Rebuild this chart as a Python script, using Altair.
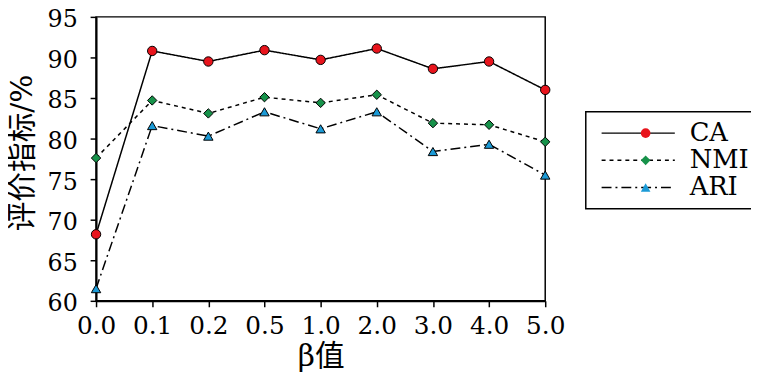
import altair as alt
import pandas as pd

# ---- data ----
beta = ["0.0", "0.1", "0.2", "0.5", "1.0", "2.0", "3.0", "4.0", "5.0"]
series = ["CA", "NMI", "ARI"]
ca = [68.2, 90.8, 89.5, 90.9, 89.7, 91.1, 88.6, 89.5, 86.0]
nmi = [77.6, 84.7, 83.1, 85.1, 84.4, 85.4, 81.9, 81.7, 79.6]
ari = [61.5, 81.6, 80.3, 83.3, 81.2, 83.3, 78.4, 79.3, 75.5]
y_ticks = [60, 65, 70, 75, 80, 85, 90, 95]

colors = ["#e8141c", "#17924a", "#1b9ad6"]
shapes = ["circle", "diamond", "triangle-up"]
dashes = [[1, 0], [4, 4], [10, 4, 2, 4]]

rows = []
for s, vals in zip(series, [ca, nmi, ari]):
    for b, v in zip(beta, vals):
        rows.append({"beta": b, "series": s, "metric": s, "value": v})
df = pd.DataFrame(rows)

FONT = "DejaVu Serif, Noto Sans CJK SC"

x = alt.X(
    "beta:O",
    sort=beta,
    scale=alt.Scale(type="point", padding=0),
    axis=alt.Axis(title="β值", labelAngle=0, labelPadding=7, titlePadding=3,
                  titleFontSize=30, labelFontSize=25),
)
y = alt.Y(
    "value:Q",
    scale=alt.Scale(domain=[60, 95], nice=False, zero=False),
    axis=alt.Axis(title="评价指标/%", values=y_ticks, labelPadding=13,
                  labelBaseline="alphabetic", labelOffset=10, labelFontSize=24,
                  titlePadding=10, titleY=137, titleFontSize=30),
)

LX, LY = 495, 96
common_leg = dict(title=None, orient="none", legendX=LX, legendY=LY,
                  labelFont=FONT, labelFontSize=26, labelColor="black",
                  padding=8, clipHeight=27, rowPadding=0.5)

lines = alt.Chart(df).mark_line(color="black", strokeWidth=1.5).encode(
    x=x,
    y=y,
    strokeDash=alt.StrokeDash(
        "metric:N",
        sort=series,
        scale=alt.Scale(range=dashes),
        legend=alt.Legend(symbolType="stroke", symbolSize=5476,
                          symbolStrokeWidth=1.5, symbolStrokeColor="black",
                          symbolOffset=7, labelOffset=14, strokeColor="black",
                          fillColor="white", zindex=1, **common_leg),
    ),
)

pt_leg = alt.Legend(symbolSize=95, symbolStrokeColor="black",
                    symbolStrokeWidth=1, symbolOffset=39.5, labelOpacity=0,
                    labelExpr="''", zindex=2, **common_leg)

points = alt.Chart(df).mark_point(
    filled=True, size=90, stroke="black", strokeWidth=1, opacity=1
).encode(
    x=x,
    y=y,
    shape=alt.Shape("series:N",
                    scale=alt.Scale(domain=series, range=shapes), legend=pt_leg),
    fill=alt.Fill("series:N",
                  scale=alt.Scale(domain=series, range=colors), legend=pt_leg),
)

chart = alt.layer(lines, points).properties(
    width=454,
    height=287,
    padding={"left": 89, "top": 7, "right": 208, "bottom": 73},
    autosize=alt.AutoSizeParams(type="none"),
).configure_view(
    stroke="black", strokeWidth=1.5
).configure_axis(
    grid=False,
    domainColor="black",
    domainWidth=2,
    tickColor="black",
    tickWidth=1.5,
    tickSize=6,
    labelFont=FONT,
    labelColor="black",
    titleFont=FONT,
    titleFontWeight="normal",
    titleColor="black",
).configure_legend(
    strokeWidth=1.5
)

chart.save("out.html", embed_options={"renderer": "svg", "actions": False})
